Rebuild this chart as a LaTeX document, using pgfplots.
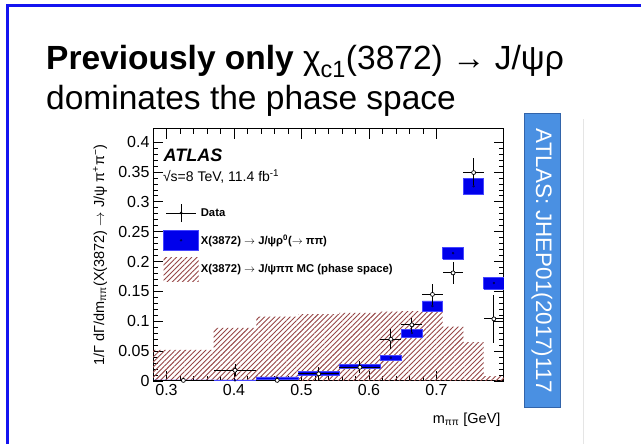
\documentclass[border=0pt]{standalone}
\usepackage{fontspec}
\setmainfont{Liberation Sans}
\usepackage{pgfplots}
\pgfplotsset{compat=1.18}
\usetikzlibrary{patterns,patterns.meta}
\definecolor{slideblue}{RGB}{20,20,240}
\definecolor{boxblue}{RGB}{74,144,226}
\definecolor{boxedge}{RGB}{50,100,170}
\definecolor{hatchred}{RGB}{150,70,70}
\definecolor{predblue}{RGB}{0,0,235}
\definecolor{prededge}{RGB}{70,70,255}
\definecolor{navyc}{RGB}{0,0,90}
\newcommand{\ar}{\ensuremath{\rightarrow}}
\newcommand{\predbox}[4]{\addplot[fill=predblue, draw=prededge, line width=0.6pt, forget plot] coordinates {(#1,#3) (#2,#3) (#2,#4) (#1,#4) (#1,#3)};}
\begin{document}
\begin{tikzpicture}[x=1pt,y=1pt]
\useasboundingbox (0,0) rectangle (641,444);
\fill[white] (0,0) rectangle (641,444);
\draw[slideblue, line width=3pt] (7,0) -- (7,438) -- (641,438);
\node[anchor=base west, inner sep=0, font=\fontsize{33.5}{36}\selectfont] at (46,374) {\textbf{Previously only} χ\textsubscript{c1}(3872) → J/ψρ};
\node[anchor=base west, inner sep=0, font=\fontsize{33.5}{36}\selectfont] at (46,334) {dominates the phase space};
\draw[black!10] (583,0) -- (583,325);
\draw[fill=boxblue, draw=boxedge, line width=0.8pt] (524,37) rectangle (560,331);
\node[rotate=-90, white, font=\fontsize{22.4}{22}\selectfont] at (542,183) {ATLAS: JHEP01(2017)117};
\begin{axis}[at={(153pt,63pt)}, anchor=south west, scale only axis,
  width=351pt, height=252pt,
  xmin=0.28, xmax=0.80, ymin=0, ymax=0.422,
  xtick={0.3,0.4,0.5,0.6,0.7},
  ytick={0,0.05,0.1,0.15,0.2,0.25,0.3,0.35,0.4},
  minor x tick num=4, minor y tick num=4,
  tick align=inside, major tick length=10pt, minor tick length=5pt,
  axis line style={line width=1pt},
  tick style={line width=0.8pt, black},
  ticklabel style={font=\fontsize{16}{16}\selectfont},
  /pgf/number format/assume math mode=true,
  yticklabel style={/pgf/number format/fixed, /pgf/number format/precision=2},
  xticklabel style={/pgf/number format/fixed, /pgf/number format/precision=1},
  ylabel={1/Γ dΓ/dm\textsubscript{ππ}(X(3872) \ar{} J/ψ π\textsuperscript{+}π\textsuperscript{−})},
  every axis y label/.style={at={(axis description cs:-0.151,0.5)}, rotate=90, anchor=center, font=\fontsize{14.5}{15}\selectfont},
  xlabel={m\textsubscript{ππ} [GeV]},
  every axis x label/.style={at={(axis description cs:1,-0.155)}, anchor=east, font=\fontsize{14.5}{15}\selectfont},
  legend style={at={(axis description cs:0.02,0.715)}, anchor=north west, draw=none, fill=none,
    font=\bfseries\fontsize{11.3}{13}\selectfont, row sep=7pt},
  legend cell align=left,
  clip=true,
]
% phase-space MC (hatched)
\addplot[const plot, draw=none, pattern={Lines[angle=45,distance=3.6pt,line width=0.9pt]}, pattern color=hatchred, forget plot]
 coordinates {(0.28,0.052) (0.37,0.089) (0.433,0.108) (0.495,0.112) (0.556,0.114) (0.617,0.116) (0.648,0.117) (0.679,0.117) (0.709,0.091) (0.740,0.065) (0.770,0.008) (0.80,0.008)} \closedcycle;
% J/psi rho prediction boxes
\predbox{0.28}{0.37}{0.0}{0.002}
\predbox{0.37}{0.433}{0.0}{0.002}
\predbox{0.433}{0.495}{0.003}{0.007}
\predbox{0.495}{0.556}{0.009}{0.016}
\predbox{0.556}{0.617}{0.022}{0.028}
\predbox{0.617}{0.648}{0.035}{0.043}
\predbox{0.648}{0.679}{0.074}{0.087}
\predbox{0.679}{0.709}{0.117}{0.134}
\predbox{0.709}{0.740}{0.204}{0.224}
\predbox{0.740}{0.770}{0.313}{0.339}
\predbox{0.770}{0.80}{0.154}{0.174}
\addplot[only marks, mark=*, mark size=1pt, navyc, forget plot] coordinates {
(0.325,0.001) (0.4015,0.001) (0.464,0.005) (0.5255,0.0125) (0.5865,0.025) (0.6325,0.039) (0.6635,0.0805) (0.694,0.1255) (0.7245,0.214) (0.755,0.326) (0.785,0.164)};
% data
\addplot[forget plot, only marks, mark=*, mark size=2pt, mark options={fill=white, draw=black, line width=0.7pt},
  error bars/.cd, x dir=both, x explicit, y dir=both, y explicit,
  error bar style={black, line width=0.9pt}, error mark=none]
 table[x=x, y=y, x error=ex, y error=ey] {
x y ex ey
0.325 0.001 0.045 0.003
0.4015 0.018 0.0315 0.010
0.464 0.001 0.031 0.005
0.5255 0.012 0.0305 0.012
0.5865 0.023 0.0305 0.010
0.6325 0.070 0.0155 0.017
0.6635 0.094 0.0155 0.012
0.694 0.145 0.015 0.018
0.7245 0.181 0.0155 0.018
0.755 0.349 0.015 0.024
0.785 0.104 0.015 0.040
};
% legend
\addlegendimage{legend image code/.code={\path[draw=none, fill=none] (0pt,-10pt) rectangle (35pt,10pt); \draw[black, line width=0.9pt] (2.5pt,0pt) -- (32.5pt,0pt); \draw[black, line width=0.9pt] (17.5pt,-9pt) -- (17.5pt,9pt); \fill[black, draw=none] (17.5pt,0pt) circle (1.5pt);}}
\addlegendentry{Data}
\addlegendimage{legend image code/.code={\draw[fill=predblue, draw=prededge, line width=0.6pt] (0pt,-10pt) rectangle (35pt,10pt); \fill[navyc, draw=none] (17.5pt,0pt) circle (1.3pt);}}
\addlegendentry{X(3872) \ar{} J/ψρ\textsuperscript{0}(\ar{} ππ)}
\addlegendimage{legend image code/.code={\fill[draw=none, pattern={Lines[angle=45,distance=3.6pt,line width=0.9pt]}, pattern color=hatchred] (0pt,-12pt) rectangle (35pt,12pt);}}
\addlegendentry{X(3872) \ar{} J/ψππ MC (phase space)}
\node[anchor=west, inner sep=0, font=\bfseries\itshape\fontsize{18}{18}\selectfont] at (axis description cs:0.03,0.897) {ATLAS};
\node[anchor=west, inner sep=0, font=\fontsize{14}{14}\selectfont] at (axis description cs:0.028,0.81) {√s=8 TeV, 11.4 fb\textsuperscript{-1}};
\end{axis}
\end{tikzpicture}
\end{document}
